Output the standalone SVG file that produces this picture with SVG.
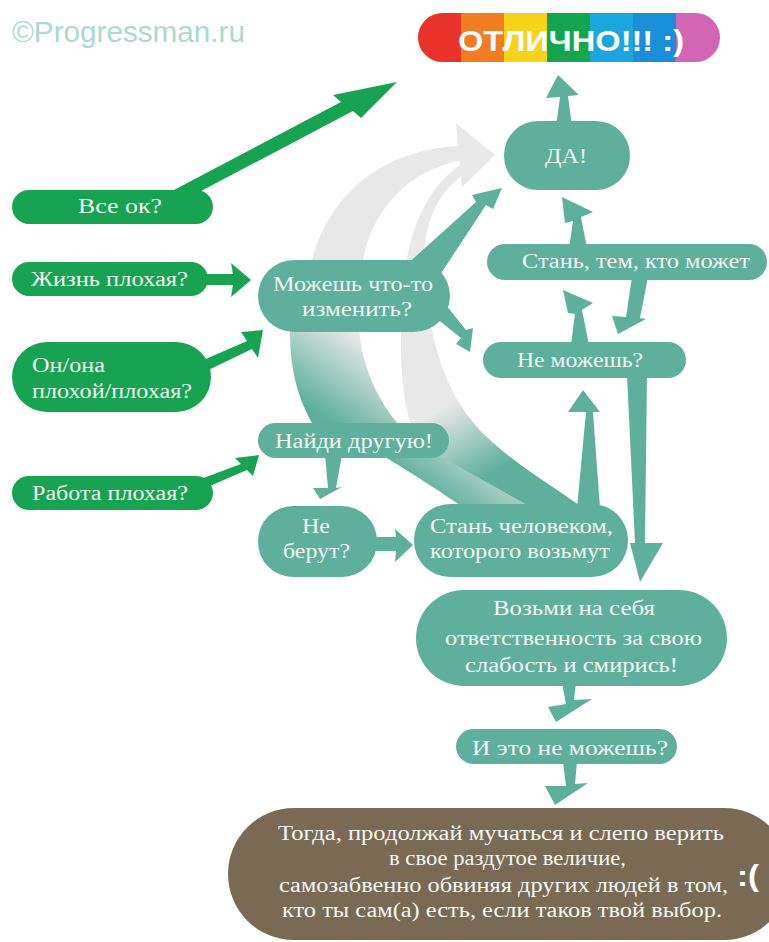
<svg xmlns="http://www.w3.org/2000/svg" width="769" height="942" viewBox="0 0 769 942">
<style>
.g{fill:#17a351}
.t{fill:#5eb09c}
.b{fill:#7a6a53}
.lbl{font-family:"Liberation Serif","Times New Roman",serif;font-size:20px;fill:#f3f6f2}
</style>
<defs>
<linearGradient id="gradA" gradientUnits="userSpaceOnUse" x1="300" y1="400" x2="350" y2="330">
<stop offset="0" stop-color="#5eb09c"/><stop offset="1" stop-color="#e8e8e8"/>
</linearGradient>
<linearGradient id="gradB" gradientUnits="userSpaceOnUse" x1="480" y1="480" x2="440" y2="410">
<stop offset="0" stop-color="#5eb09c"/><stop offset="1" stop-color="#e8e8e8"/>
</linearGradient>
<clipPath id="pill"><rect x="418" y="13" width="302" height="49" rx="24.5"/></clipPath>
</defs>
<rect width="769" height="942" fill="#ffffff"/>
<text x="12" y="42" textLength="233" lengthAdjust="spacingAndGlyphs" font-family="'Liberation Sans',Arial,sans-serif" font-size="30" fill="#acd8ce">©Progressman.ru</text>

<g id="background-arcs">
<path fill="url(#gradB)" d="M 420,445 C 405,420 400,380 401,330 C 401,270 410,200 460,165 L 462,176 C 435,195 420,230 425,280 C 430,340 445,400 490,440 C 520,468 560,490 588,512 L 500,512 Z"/>
<path fill="url(#gradA)" d="M 462,146 C 392,148 332,186 312,260 C 300,290 290,310 290,333 C 290,370 298,400 315,428 C 335,445 360,452 385,457 C 420,478 445,495 470,512 L 540,512 L 420,445 C 395,425 372,395 362,350 C 355,310 358,280 365,250 C 378,205 410,170 462,160 Z"/>
<polygon fill="#e8e8e8" points="456,123 495,155 462,187"/>
</g>

<g id="connectors">
<polygon class="g" points="155,200 341,102 333,95 397,82 361,118 353,111 167,209"/>
<polygon class="g" points="200,274 233,274 231,263 251,280 231,297 233,285 200,285"/>
<polygon class="g" points="192,365 247,341 241,332 263,330 258,358 252,349 198,375"/>
<polygon class="g" points="190,483 241,464 235,458 259,455 253,476 247,470 196,492"/>
<polygon class="t" points="556,126 560,97 546,98 558,75 579,95 568,96 572,126"/>
<polygon class="t" points="405,266 476,202 472,195 502,188 493,209 486,205 438,278"/>
<polygon class="t" points="569,248 573,221 565,223 562,197 593,212 581,217 587,248"/>
<polygon class="t" points="571,345 575,314 568,313 563,290 593,303 582,310 589,345"/>
<polygon class="t" points="632,277 648,277 640,318 646,319 618,334 612,316 626,317"/>
<polygon class="t" points="436,318 446,305 466,330 473,328 470,352 456,344 461,338"/>
<polygon class="t" points="325,455 342,455 336,488 342,487 320,499 313,488 328,488"/>
<polygon class="t" points="372,537 396,537 395,529 413,545 395,562 396,551 372,551"/>
<polygon class="t" points="577,508 586,412 568,412 583,390 600,412 593,412 600,508"/>
<polygon class="t" points="627,375 647,375 645,543 663,543 640,582 630,543 635,543"/>
<polygon class="t" points="562,683 576,683 574,700 592,699 556,722 548,707 566,704"/>
<polygon class="t" points="563,762 577,762 575,784 588,783 555,805 545,786 566,786"/>
</g>

<g id="otlichno">
<g clip-path="url(#pill)">
<rect x="418" y="13" width="43" height="49" fill="#e8322a"/>
<rect x="461" y="13" width="43" height="49" fill="#f07d22"/>
<rect x="504" y="13" width="43" height="49" fill="#f6d31a"/>
<rect x="547" y="13" width="43" height="49" fill="#14a64f"/>
<rect x="590" y="13" width="43" height="49" fill="#1ba6df"/>
<rect x="633" y="13" width="43" height="49" fill="#1a8ed8"/>
<rect x="676" y="13" width="44" height="49" fill="#d266b4"/>
</g>
<text x="458" y="51" textLength="226" lengthAdjust="spacingAndGlyphs" font-family="'Liberation Sans Narrow','Liberation Sans',Arial,sans-serif" font-weight="bold" font-size="30" fill="#ffffff">ОТЛИЧНО!!! :)</text>
</g>

<g id="vse-ok"><rect class="g" x="12" y="190" width="201" height="34" rx="17"/>
<text class="lbl" x="78" y="213" textLength="84" lengthAdjust="spacingAndGlyphs">Все ок?</text></g>
<g id="zhizn"><rect class="g" x="12" y="262" width="196" height="34" rx="17"/>
<text class="lbl" x="31" y="286" textLength="157" lengthAdjust="spacingAndGlyphs">Жизнь плохая?</text></g>
<g id="on-ona"><rect class="g" x="12" y="342" width="199" height="70" rx="35"/>
<text class="lbl" x="32" y="372" textLength="73" lengthAdjust="spacingAndGlyphs">Он/она</text>
<text class="lbl" x="32" y="398" textLength="160" lengthAdjust="spacingAndGlyphs">плохой/плохая?</text></g>
<g id="rabota"><rect class="g" x="12" y="476" width="201" height="34" rx="17"/>
<text class="lbl" x="32" y="500" textLength="156" lengthAdjust="spacingAndGlyphs">Работа плохая?</text></g>

<g id="mozhesh"><rect class="t" x="258" y="260" width="192" height="72" rx="36"/>
<text class="lbl" x="273" y="291" textLength="160" lengthAdjust="spacingAndGlyphs">Можешь что-то</text>
<text class="lbl" x="302" y="316" textLength="110" lengthAdjust="spacingAndGlyphs">изменить?</text></g>
<g id="da"><rect class="t" x="504" y="121" width="126" height="69" rx="34"/>
<text class="lbl" x="545" y="163" textLength="42" lengthAdjust="spacingAndGlyphs">ДА!</text></g>
<g id="stan-tem"><rect class="t" x="487" y="244" width="280" height="36" rx="18"/>
<text class="lbl" x="522" y="268" textLength="228" lengthAdjust="spacingAndGlyphs">Стань, тем, кто может</text></g>
<g id="ne-mozhesh"><rect class="t" x="483" y="342" width="203" height="36" rx="18"/>
<text class="lbl" x="517" y="367" textLength="126" lengthAdjust="spacingAndGlyphs">Не можешь?</text></g>
<g id="naydi"><rect class="t" x="258" y="423" width="191" height="35" rx="17.5"/>
<text class="lbl" x="275" y="448" textLength="158" lengthAdjust="spacingAndGlyphs">Найди другую!</text></g>
<g id="ne-berut"><rect class="t" x="258" y="506" width="119" height="71" rx="35"/>
<text class="lbl" x="302" y="533" textLength="28" lengthAdjust="spacingAndGlyphs">Не</text>
<text class="lbl" x="283" y="558" textLength="67" lengthAdjust="spacingAndGlyphs">берут?</text></g>
<g id="stan-chelovekom"><rect class="t" x="414" y="504" width="214" height="73" rx="36"/>
<text class="lbl" x="430" y="533" textLength="183" lengthAdjust="spacingAndGlyphs">Стань человеком,</text>
<text class="lbl" x="430" y="558" textLength="180" lengthAdjust="spacingAndGlyphs">которого возьмут</text></g>
<g id="vozmi"><rect class="t" x="416" y="590" width="311" height="96" rx="48"/>
<text class="lbl" x="493" y="615" textLength="162" lengthAdjust="spacingAndGlyphs">Возьми на себя</text>
<text class="lbl" x="445" y="645" textLength="257" lengthAdjust="spacingAndGlyphs">ответственность за свою</text>
<text class="lbl" x="465" y="672" textLength="213" lengthAdjust="spacingAndGlyphs">слабость и смирись!</text></g>
<g id="i-eto"><rect class="t" x="456" y="729" width="221" height="35" rx="17.5"/>
<text class="lbl" x="472" y="755" textLength="196" lengthAdjust="spacingAndGlyphs">И это не можешь?</text></g>
<g id="togda"><rect class="b" x="228" y="808" width="562" height="132" rx="66"/>
<text class="lbl" x="278" y="840" textLength="446" lengthAdjust="spacingAndGlyphs">Тогда, продолжай мучаться и слепо верить</text>
<text class="lbl" x="389" y="865" textLength="237" lengthAdjust="spacingAndGlyphs">в свое раздутое величие,</text>
<text class="lbl" x="279" y="892" textLength="449" lengthAdjust="spacingAndGlyphs">самозабвенно обвиняя других людей в том,</text>
<text class="lbl" x="282" y="917" textLength="440" lengthAdjust="spacingAndGlyphs">кто ты сам(а) есть, если таков твой выбор.</text>
<text x="737" y="886" textLength="22" lengthAdjust="spacingAndGlyphs" font-family="'Liberation Sans',Arial,sans-serif" font-weight="bold" font-size="30" fill="#ffffff">:(</text></g>
</svg>
